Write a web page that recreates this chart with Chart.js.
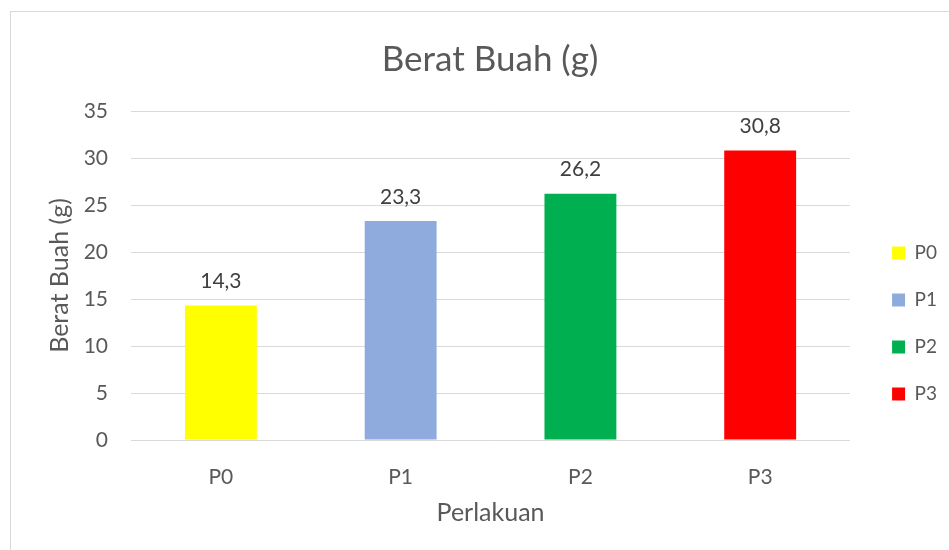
<!DOCTYPE html>
<html>
<head>
<meta charset="utf-8">
<title>Berat Buah (g)</title>
<script src="https://cdn.jsdelivr.net/npm/chart.js@4.4.1/dist/chart.umd.min.js"></script>
<style>
  html, body { margin: 0; padding: 0; background: #fff; }
  #wrap { position: relative; width: 949px; height: 550px; overflow: hidden; }
  #frame { position: absolute; left: 10px; top: 11px; width: 1000px; height: 600px; border: 1px solid #d9d9d9; }
  #chart { position: absolute; left: 0; top: 0; }
</style>
</head>
<body>
<div id="wrap">
  <div id="frame"></div>
  <canvas id="chart" width="949" height="550"></canvas>
</div>
<script>
const perlakuan = ["P0", "P1", "P2", "P3"];
const beratBuah = [14.3, 23.3, 26.2, 30.8];
const warnaBar = ["#FFFF00", "#8FAADC", "#00B050", "#FF0000"];
const yTicks = [0, 5, 10, 15, 20, 25, 30, 35];

const abu = "#595959";
const huruf = "Lato";

// label nilai di atas batang (pakai koma desimal)
const labelNilai = {
  id: "labelNilai",
  afterDatasetsDraw(chart) {
    const ctx = chart.ctx;
    const meta = chart.getDatasetMeta(0);
    ctx.save();
    ctx.font = "21px " + huruf;
    ctx.fillStyle = "#404040";
    ctx.textAlign = "center";
    ctx.textBaseline = "middle";
    meta.data.forEach((bar, i) => {
      ctx.fillText(beratBuah[i].toFixed(1).replace(".", ","), bar.x, bar.y - 24);
    });
    ctx.restore();
  },
};

const ctx = document.getElementById("chart").getContext("2d");
const myChart = new Chart(ctx, {
  type: "bar",
  data: {
    labels: perlakuan,
    datasets: [
      {
        label: "Berat Buah (g)",
        data: beratBuah,
        backgroundColor: warnaBar,
        borderWidth: 0,
        barPercentage: 0.4,
        categoryPercentage: 1,
      },
    ],
  },
  options: {
    responsive: false,
    animation: false,
    devicePixelRatio: 1,
    layout: { padding: { left: 33, right: 2, top: 0, bottom: 0 } },
    scales: {
      x: {
        grid: { display: false },
        border: { display: false },
        ticks: { color: abu, font: { family: huruf, size: 21 }, padding: 17 },
        title: {
          display: true,
          text: "Perlakuan",
          color: abu,
          font: { family: huruf, size: 25 },
          padding: { top: 0, bottom: 22 },
        },
        afterFit: (s) => {
          s.height = 110;
        },
      },
      y: {
        min: 0,
        max: 35,
        afterBuildTicks: (s) => {
          s.ticks = yTicks.map((v) => ({ value: v }));
        },
        grid: { color: "#d9d9d9", drawTicks: false },
        border: { display: false },
        ticks: { color: abu, font: { family: huruf, size: 21 }, padding: 23 },
        title: {
          display: true,
          text: "Berat Buah (g)",
          color: abu,
          font: { family: huruf, size: 25 },
          padding: { top: 12, bottom: 0 },
        },
        afterFit: (s) => {
          s.width = 98;
        },
      },
      // jarak kosong antara area plot dan legenda
      kanan: {
        position: "right",
        display: true,
        grid: { display: false },
        border: { display: false },
        ticks: { display: false },
        afterFit: (s) => {
          s.width = 14;
        },
      },
    },
    plugins: {
      title: {
        display: true,
        text: "Berat Buah (g)",
        color: abu,
        font: { family: huruf, size: 35, weight: "normal" },
        padding: { top: 39, bottom: 30 },
      },
      legend: {
        position: "right",
        align: "center",
        onClick: () => {},
        title: {
          display: true,
          text: "",
          font: { size: 10, lineHeight: 1 },
          padding: { top: 87, bottom: 0 },
        },
        labels: {
          boxWidth: 13,
          boxHeight: 13,
          padding: 28,
          color: abu,
          font: { family: huruf, size: 19 },
          generateLabels: () =>
            perlakuan.map((p, i) => ({
              text: p,
              fillStyle: warnaBar[i],
              strokeStyle: warnaBar[i],
              lineWidth: 0,
              fontColor: abu,
              hidden: false,
              index: i,
            })),
        },
      },
      tooltip: { enabled: false },
    },
  },
  plugins: [labelNilai],
});
</script>
</body>
</html>
